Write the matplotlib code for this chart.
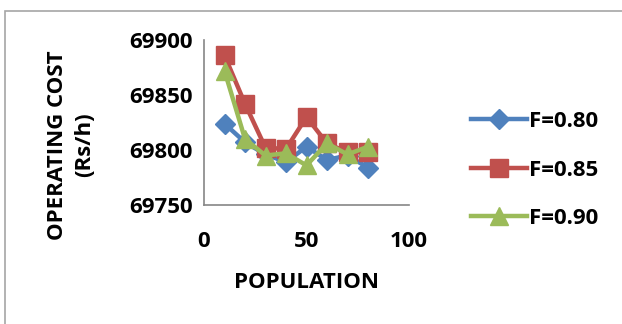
import matplotlib.pyplot as plt
from matplotlib.patches import Rectangle

population = [10, 20, 30, 40, 50, 60, 70, 80]
cost_f080 = [69824, 69807, 69796, 69789, 69803, 69791, 69795, 69784]
cost_f085 = [69886, 69842, 69802, 69801, 69830, 69806, 69798, 69798]
cost_f090 = [69872, 69810, 69795, 69797, 69786, 69806, 69796, 69803]
labels = ["F=0.80", "F=0.85", "F=0.90"]

y_ticks = [69750, 69800, 69850, 69900]
x_ticks = [0, 50, 100]


def main():
    plt.rcParams['font.family'] = ['Open Sans', 'DejaVu Sans']
    plt.rcParams['font.weight'] = 'bold'
    W, H = 622, 324
    fs = 16
    fig = plt.figure(figsize=(W / 100, H / 100), dpi=100)

    # chart area border
    fig.patches.append(Rectangle((5 / W, -0.1), 1.2, 1 - 11 / H + 0.1,
                                 transform=fig.transFigure, fill=False,
                                 edgecolor='#a6a6a6', linewidth=1.2))

    ax = fig.add_axes([204 / W, 1 - 205 / H, 205 / W, 165 / H])

    ax.plot(population, cost_f080, color='#4F81BD', lw=3.2, marker='D',
            ms=10, label=labels[0])
    ax.plot(population, cost_f085, color='#C0504D', lw=3.2, marker='s',
            ms=13.5, label=labels[1])
    ax.plot(population, cost_f090, color='#9BBB59', lw=3.2, marker='^',
            ms=13.5, label=labels[2])

    ax.set_xlim(0, 100)
    ax.set_ylim(69750, 69900)
    ax.set_xticks(x_ticks)
    ax.set_yticks(y_ticks)
    ax.tick_params(length=0, labelsize=fs, pad=8)
    ax.tick_params(axis='x', pad=19)
    for s in ['top', 'right']:
        ax.spines[s].set_visible(False)
    for s in ['left', 'bottom']:
        ax.spines[s].set_color('#868686')
        ax.spines[s].set_linewidth(1.2)
    for lab in ax.get_xticklabels() + ax.get_yticklabels():
        lab.set_fontweight('bold')

    fig.text(71 / W, 1 - 145 / H, "OPERATING COST\n(Rs/h)", rotation=90,
             ha='center', va='center', fontsize=fs, fontweight='bold',
             linespacing=1.35)
    fig.text(306 / W, 1 - 282 / H, "POPULATION", ha='center', va='center',
             fontsize=fs, fontweight='bold')

    ax.legend(loc='center left', bbox_to_anchor=(451 / W, 1 - 170 / H),
              bbox_transform=fig.transFigure, frameon=False,
              handlelength=2.5, handletextpad=0.1, labelspacing=1.23,
              prop={'size': fs, 'weight': 'bold'})

    fig.savefig("out.png", dpi=100)


if __name__ == "__main__":
    main()
